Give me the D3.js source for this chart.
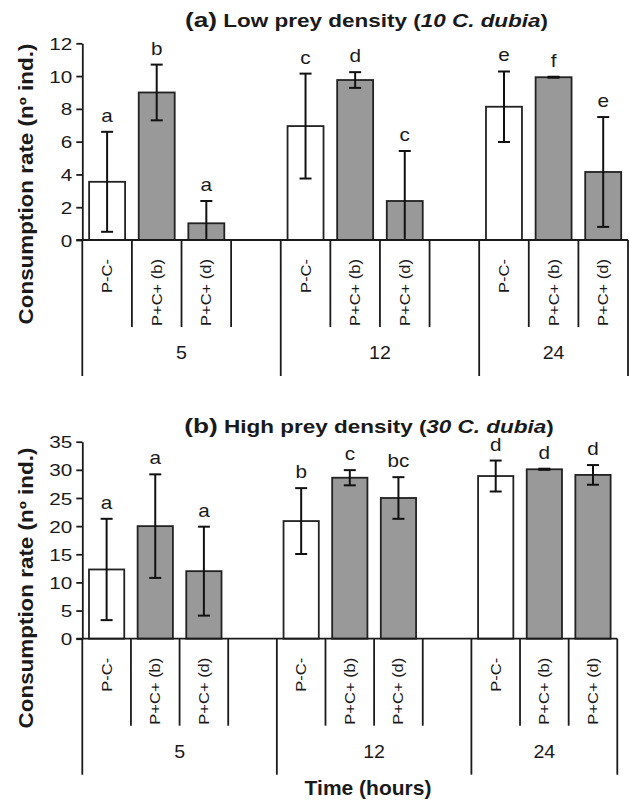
<!DOCTYPE html>
<html><head><meta charset="utf-8">
<script src="https://cdn.jsdelivr.net/npm/d3@7"></script>
<style>body{margin:0;background:#fff}</style>
</head><body>
<svg id="chart" width="630" height="803"></svg>
<script>
// ---- data ----
const times = ["5", "12", "24"];
const treatments = ["P-C-", "P+C+ (b)", "P+C+ (d)"];
const fills = ["#ffffff", "#999999", "#999999"];
const lowMeans = [3.55, 9.0, 1.02, 6.95, 9.76, 2.38, 8.13, 9.93, 4.15];
const lowErrs = [3.05, 1.7, 1.36, 3.2, 0.48, 3.05, 2.15, 0.03, 3.35];
const lowLetters = ["a", "b", "a", "c", "d", "c", "e", "f", "e"];
const highMeans = [12.3, 20.0, 12.0, 20.9, 28.6, 25.0, 28.9, 30.1, 29.1];
const highErrs = [9.0, 9.2, 7.9, 5.85, 1.35, 3.7, 2.75, 0.1, 1.75];
const highLetters = ["a", "a", "a", "b", "c", "bc", "d", "d", "d"];
const lowTicks = [0, 2, 4, 6, 8, 10, 12];
const highTicks = [0, 5, 10, 15, 20, 25, 30, 35];

const svg = d3.select("#chart");
const FONT = "'Liberation Sans', Arial, Helvetica, sans-serif";
const INK = "#1a1a1a";

function stretched(sel, x, y, rot, sx) {
  return sel.attr("transform", `translate(${x},${y}) rotate(${rot}) scale(${sx},1)`);
}

function drawPanel(cfg) {
  const g = svg.append("g");
  // slots: 3 groups, each with 3 treatments + a gap slot (none after the last group)
  const slots = [];
  times.forEach((t, ti) => {
    treatments.forEach(tr => slots.push({ key: t + "|" + tr, time: t, tr }));
    if (ti < times.length - 1) slots.push({ key: t + "|gap", time: t, tr: null });
  });
  const x = d3.scaleBand().domain(slots.map(s => s.key)).range([cfg.x0, cfg.x1]).padding(0);
  const y = d3.scaleLinear().domain([0, cfg.max]).range([cfg.y0, cfg.yTop]);
  const bw = x.bandwidth();
  const barW = bw * 0.725;

  // bars data
  const bars = [];
  times.forEach((t, ti) => treatments.forEach((tr, k) => {
    const i = ti * 3 + k;
    bars.push({ key: t + "|" + tr, k, mean: cfg.means[i], err: cfg.errs[i], letter: cfg.letters[i] });
  }));

  // y axis
  const ax = g.append("g").attr("transform", `translate(${cfg.x0},0)`)
    .call(d3.axisLeft(y).tickValues(cfg.ticks).tickSize(6).tickSizeOuter(0));
  ax.select(".domain").attr("stroke", INK).attr("stroke-width", 1.8);
  ax.selectAll(".tick line").attr("stroke", INK).attr("stroke-width", 1.8);
  ax.selectAll(".tick text")
    .attr("x", null).attr("dy", "0.36em")
    .attr("transform", "translate(-10,0) scale(1.22,1)")
    .attr("font-family", FONT).attr("font-size", 17).attr("fill", INK);

  // bars
  g.selectAll("rect.bar").data(bars).join("rect")
    .attr("x", d => x(d.key) + (bw - barW) / 2)
    .attr("width", barW)
    .attr("y", d => y(d.mean))
    .attr("height", d => y(0) - y(d.mean))
    .attr("fill", d => fills[d.k])
    .attr("stroke", "#222").attr("stroke-width", 1.8);

  // error bars
  const eg = g.selectAll("g.err").data(bars).join("g")
    .attr("transform", d => `translate(${x(d.key) + bw / 2},0)`);
  eg.append("line")
    .attr("y1", d => y(d.mean + d.err))
    .attr("y2", d => y(Math.max(0, d.mean - d.err)))
    .attr("stroke", "#111").attr("stroke-width", 2);
  eg.append("line").attr("x1", -6).attr("x2", 6)
    .attr("y1", d => y(d.mean + d.err)).attr("y2", d => y(d.mean + d.err))
    .attr("stroke", "#111").attr("stroke-width", 2);
  eg.filter(d => d.mean - d.err > 0).append("line").attr("x1", -6).attr("x2", 6)
    .attr("y1", d => y(d.mean - d.err)).attr("y2", d => y(d.mean - d.err))
    .attr("stroke", "#111").attr("stroke-width", 2);
  // letters
  eg.append("text")
    .each(function (d) { stretched(d3.select(this), 0, y(d.mean + d.err) - 10, 0, 1.15); })
    .attr("text-anchor", "middle")
    .attr("font-family", FONT).attr("font-size", 18).attr("fill", INK)
    .text(d => d.letter);

  // category axis line
  g.append("line").attr("x1", cfg.x0 - 6).attr("x2", cfg.x1)
    .attr("y1", cfg.y0).attr("y2", cfg.y0).attr("stroke", INK).attr("stroke-width", 1.8);
  // dividers
  const edges = slots.map((s, i) => ({ x: x(s.key), long: i === 0 || slots[i - 1].time !== s.time }));
  edges.push({ x: cfg.x1, long: true });
  g.selectAll("line.div").data(edges).join("line")
    .attr("x1", d => d.x).attr("x2", d => d.x)
    .attr("y1", cfg.y0).attr("y2", d => cfg.y0 + (d.long ? 136 : 87))
    .attr("stroke", INK).attr("stroke-width", 1.8);
  // treatment labels
  g.selectAll("text.cat").data(bars).join("text")
    .each(function (d) { stretched(d3.select(this), x(d.key) + bw / 2 + 5, cfg.y0 + 19, -90, 1.18); })
    .attr("text-anchor", "end")
    .attr("font-family", FONT).attr("font-size", 14).attr("fill", INK)
    .text(d => treatments[d.k]);
  // time labels
  times.forEach(t => {
    const first = x(t + "|" + treatments[0]);
    const lastKey = slots.filter(s => s.time === t).slice(-1)[0].key;
    const end = x(lastKey) + bw;
    stretched(g.append("text"), (first + end) / 2, cfg.y0 + 113, 0, 1.12)
      .attr("dy", "0.36em").attr("text-anchor", "middle")
      .attr("font-family", FONT).attr("font-size", 17.5).attr("fill", INK)
      .text(t);
  });

  // y axis title
  stretched(g.append("text"), 33, cfg.yTitle, -90, 1.15)
    .attr("text-anchor", "middle")
    .attr("font-family", FONT).attr("font-weight", "bold").attr("font-size", 19.5).attr("fill", INK)
    .text("Consumption rate (nº ind.)");

  // panel title
  const tt = stretched(g.append("text"), cfg.titleX, cfg.titleY, 0, 1.25)
    .attr("text-anchor", "middle")
    .attr("font-family", FONT).attr("font-weight", "bold").attr("font-size", 18).attr("fill", INK);
  tt.append("tspan").attr("font-size", 21).text(cfg.tag);
  tt.append("tspan").text(" " + cfg.titleA + " (");
  tt.append("tspan").attr("font-style", "italic").text(cfg.titleB);
  tt.append("tspan").text(")");
}

drawPanel({
  x0: 82.3, x1: 628, y0: 240, yTop: 43.3, max: 12, ticks: lowTicks,
  means: lowMeans, errs: lowErrs, letters: lowLetters,
  tag: "(a)", titleA: "Low prey density", titleB: "10 C. dubia",
  titleX: 366.5, titleY: 27, yTitle: 184
});
drawPanel({
  x0: 82.3, x1: 617.3, y0: 638.7, yTop: 441.7, max: 35, ticks: highTicks,
  means: highMeans, errs: highErrs, letters: highLetters,
  tag: "(b)", titleA: "High prey density", titleB: "30 C. dubia",
  titleX: 369, titleY: 432.5, yTitle: 588
});

stretched(svg.append("text"), 368, 795, 0, 1.05)
  .attr("text-anchor", "middle")
  .attr("font-family", FONT).attr("font-weight", "bold").attr("font-size", 20).attr("fill", INK)
  .text("Time (hours)");
</script>
</body></html>
